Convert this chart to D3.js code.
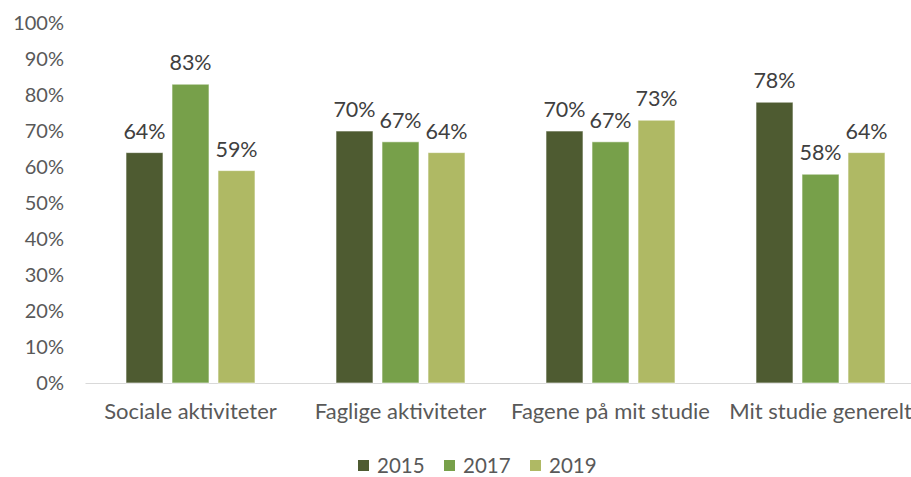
<!DOCTYPE html>
<html>
<head>
<meta charset="utf-8">
<script src="https://cdn.jsdelivr.net/npm/d3@7"></script>
<style>
  body { margin: 0; background: #fff; }
  text { font-family: "Lato", sans-serif; }
</style>
</head>
<body>
<svg id="chart"></svg>
<script>
let w = 911;
let h = 477;

let categories = ["Sociale aktiviteter", "Faglige aktiviteter", "Fagene på mit studie", "Mit studie generelt"];
let years = ["2015", "2017", "2019"];
let v2015 = [64, 70, 70, 78];
let v2017 = [83, 67, 67, 58];
let v2019 = [59, 64, 73, 64];
let yTicks = [0, 10, 20, 30, 40, 50, 60, 70, 80, 90, 100];

let colors = {"2015": "#4e5b31", "2017": "#77a04a", "2019": "#afb964"};

let data = categories.map((c, i) => ({
    cat: c,
    vals: [
        {year: "2015", v: v2015[i]},
        {year: "2017", v: v2017[i]},
        {year: "2019", v: v2019[i]}
    ]
}));

let chart = d3.select("#chart")
    .attr("width", w)
    .attr("height", h);

let xScale = d3.scaleBand()
    .domain(categories)
    .range([85.5, 925.5]);

let xInner = d3.scaleBand()
    .domain(years)
    .range([40.5, 169.5])
    .paddingInner(0.196);

let yScale = d3.scaleLinear()
    .domain([0, 100])
    .range([383, 23]);

// y tick labels
let yAxis = d3.axisLeft(yScale)
    .tickValues(yTicks)
    .tickSize(0)
    .tickPadding(0)
    .tickFormat(d => d + "%");

chart.append("g")
    .attr("transform", "translate(64, 0)")
    .call(yAxis)
    .call(g => g.select(".domain").remove())
    .selectAll("text")
    .attr("font-family", "Lato, sans-serif")
    .attr("font-size", 20)
    .attr("fill", "#595959");

// baseline
chart.append("line")
    .attr("x1", 85.5)
    .attr("x2", w)
    .attr("y1", yScale(0) + 0.5)
    .attr("y2", yScale(0) + 0.5)
    .attr("stroke", "#d9d9d9")
    .attr("stroke-width", 1);

let groups = chart.append("g")
    .selectAll("g")
    .data(data)
    .join("g")
    .attr("transform", d => `translate(${xScale(d.cat)}, 0)`);

groups.selectAll("rect")
    .data(d => d.vals)
    .join("rect")
    .attr("x", d => xInner(d.year))
    .attr("y", d => yScale(d.v))
    .attr("width", xInner.bandwidth())
    .attr("height", d => yScale(0) - yScale(d.v))
    .attr("fill", d => colors[d.year])
    .attr("stroke", "#ffffff")
    .attr("stroke-opacity", 0.6)
    .attr("stroke-width", 1);

groups.selectAll("text.val")
    .data(d => d.vals)
    .join("text")
    .attr("class", "val")
    .attr("x", d => xInner(d.year) + xInner.bandwidth() / 2)
    .attr("y", d => yScale(d.v) - 14)
    .attr("text-anchor", "middle")
    .attr("font-size", 21.5)
    .attr("fill", "#404040")
    .text(d => d.v + "%");

// category labels
let xAxis = d3.axisBottom(xScale)
    .tickSize(0)
    .tickPadding(0);

chart.append("g")
    .attr("transform", "translate(0, 403)")
    .call(xAxis)
    .call(g => g.select(".domain").remove())
    .selectAll("text")
    .attr("font-family", "Lato, sans-serif")
    .attr("font-size", 22)
    .attr("fill", "#595959");

// legend
let legendX = [358, 444, 530];
let legend = chart.append("g")
    .selectAll("g")
    .data(years)
    .join("g")
    .attr("transform", (d, i) => `translate(${legendX[i]}, 460)`);

legend.append("rect")
    .attr("width", 11)
    .attr("height", 11)
    .attr("fill", d => colors[d]);

legend.append("text")
    .attr("x", 19)
    .attr("y", 5.5)
    .attr("dy", "0.35em")
    .attr("font-size", 20.5)
    .attr("fill", "#595959")
    .text(d => d);
</script>
</body>
</html>
